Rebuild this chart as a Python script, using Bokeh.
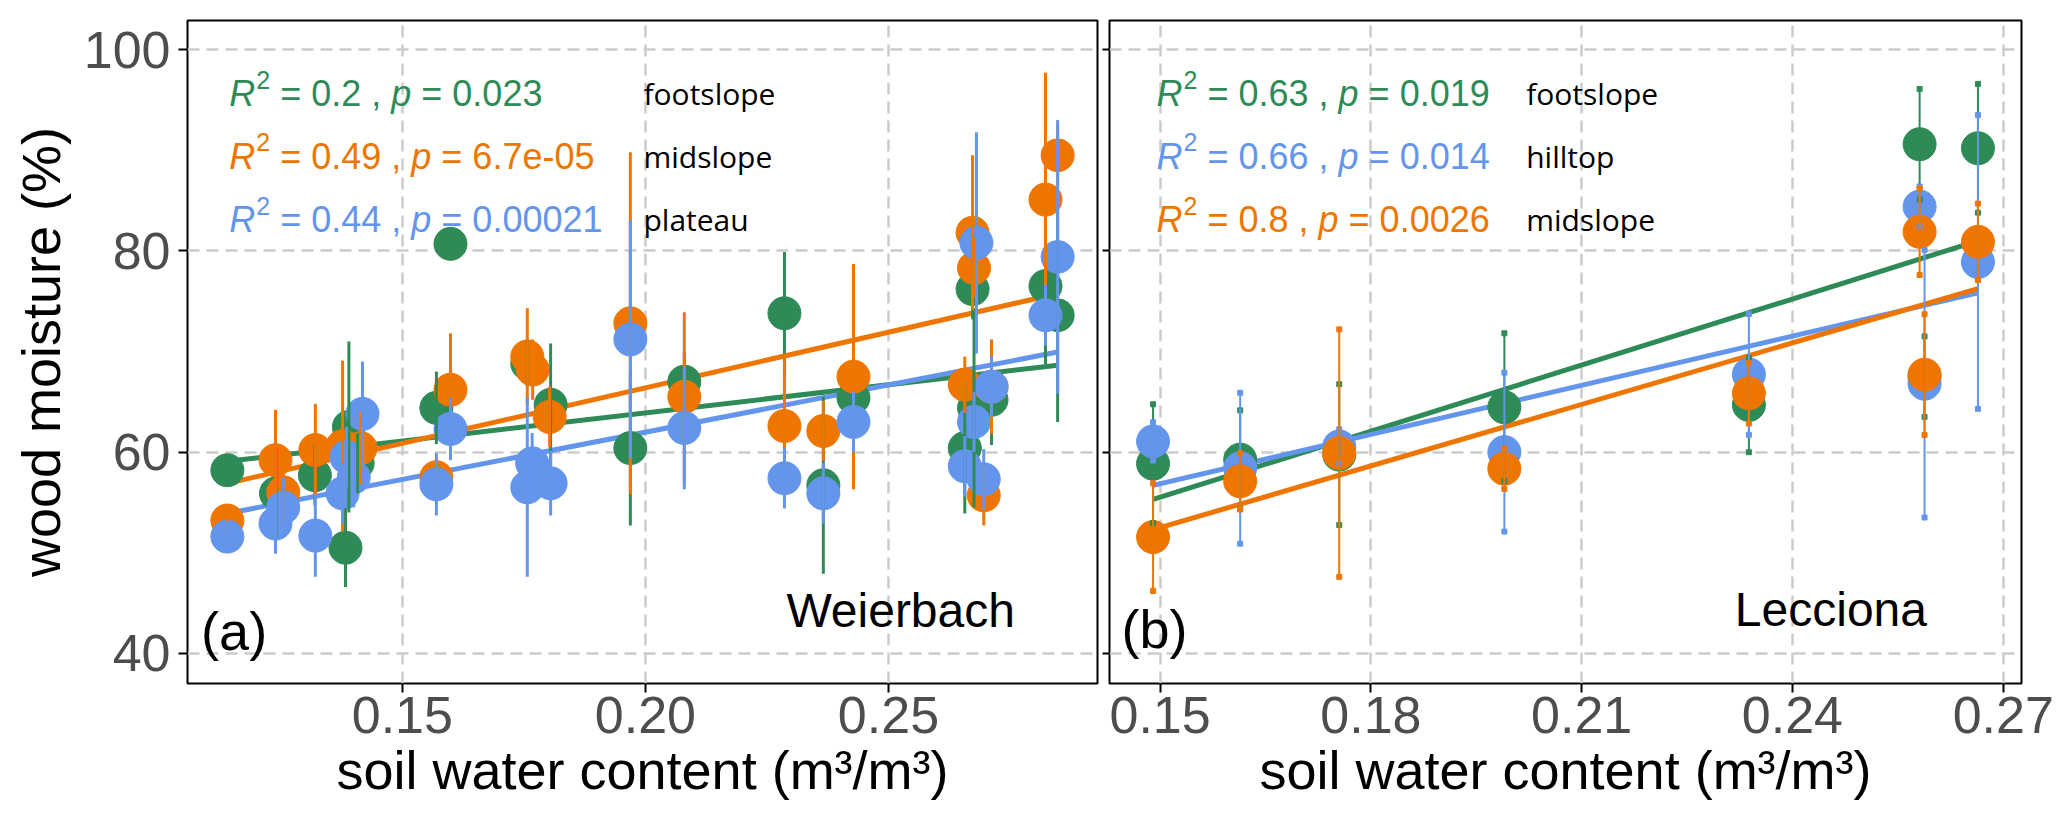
from bokeh.plotting import figure
from bokeh.models import FixedTicker, Label, Range1d
from bokeh.layouts import row
from bokeh.embed import file_html
from bokeh.resources import INLINE

GREEN = "#2E8B57"
ORANGE = "#EE7600"
BLUE = "#6495ED"

# ---- (a) Weierbach ----
wb_foot_swc = [0.114, 0.124, 0.132, 0.139, 0.1383, 0.1408, 0.157, 0.1599, 0.1757, 0.1805, 0.1969,
               0.208, 0.2286, 0.2366, 0.2428, 0.2657, 0.2673, 0.2676, 0.2712, 0.2823, 0.2848]
wb_foot_wm = [58.2, 55.9, 57.7, 62.5, 50.5, 58.9, 64.4, 80.7, 68.8, 64.7, 60.4,
              67.0, 73.8, 56.7, 65.4, 60.4, 76.2, 64.4, 65.2, 76.5, 73.6]
wb_foot_sd = [1.5, 4.4, 3.0, 8.5, 3.9, 3.0, 3.6, 1.0, 2.3, 6.1, 7.7,
              3.0, 6.1, 8.8, 3.0, 6.5, 3.0, 9.9, 4.5, 7.8, 10.6]

wb_mid_swc = [0.114, 0.1239, 0.1255, 0.1321, 0.1377, 0.1414, 0.157, 0.1599, 0.1757, 0.1768, 0.1803,
              0.1969, 0.208, 0.2286, 0.2366, 0.2428, 0.2657, 0.2673, 0.2676, 0.2696, 0.2712, 0.2823, 0.2848]
wb_mid_wm = [53.2, 59.2, 56.0, 60.2, 60.6, 60.4, 57.5, 66.2, 69.5, 68.2, 63.5,
             72.8, 65.5, 62.6, 62.1, 67.5, 66.7, 81.8, 78.3, 55.7, 66.5, 85.1, 89.5]
wb_mid_sd = [1.5, 5.0, 3.0, 4.6, 8.5, 3.6, 2.0, 5.6, 4.8, 3.0, 3.0,
             17.0, 8.4, 7.2, 3.0, 11.2, 2.8, 7.7, 3.0, 3.0, 4.7, 12.6, 3.0]

wb_plat_swc = [0.114, 0.1239, 0.1255, 0.1321, 0.1377, 0.1385, 0.140, 0.1418, 0.157, 0.1599, 0.1757,
               0.1767, 0.1805, 0.1969, 0.208, 0.2286, 0.2366, 0.2428, 0.2657, 0.2676, 0.2681, 0.2696,
               0.2712, 0.2823, 0.2848]
wb_plat_wm = [51.6, 52.9, 54.5, 51.7, 55.9, 59.5, 57.5, 63.8, 56.8, 62.3, 56.5,
              58.9, 56.9, 71.2, 62.4, 57.4, 55.9, 63.0, 58.6, 63.0, 80.8, 57.3,
              66.5, 73.6, 79.4]
wb_plat_sd = [1.5, 3.0, 3.0, 4.1, 3.0, 3.0, 3.0, 5.2, 3.1, 3.1, 8.9,
              3.0, 3.2, 11.8, 6.1, 3.0, 3.0, 3.0, 3.0, 3.0, 11.0, 3.0,
              3.0, 3.0, 13.6]

wb_groups = ["footslope", "midslope", "plateau"]
wb_fit_intercept = [52.72, 44.31, 43.2]
wb_fit_slope = [55.9, 110.4, 93.9]
wb_r2 = ["0.2", "0.49", "0.44"]
wb_p = ["0.023", "6.7e-05", "0.00021"]

# ---- (b) Lecciona ----
lc_swc = [0.149, 0.1614, 0.1755, 0.199, 0.2338, 0.2581, 0.2588, 0.2664]
lc_foot_wm = [58.85, 59.25, 59.75, 64.46, 64.69, 90.6, 67.5, 90.2]
lc_foot_sd = [5.9, 4.9, 7.0, 7.35, 4.7, 5.5, 4.0, 6.4]
lc_hill_wm = [61.06, 58.4, 60.56, 60.0, 67.72, 84.4, 66.8, 78.9]
lc_hill_sd = [1.9, 7.5, 1.7, 7.9, 6.0, 2.0, 13.3, 14.6]
lc_mid_wm = [51.55, 57.1, 59.9, 58.35, 65.84, 81.9, 67.7, 80.9]
lc_mid_sd = [5.35, 2.8, 12.3, 2.0, 3.0, 4.3, 6.0, 3.8]

lc_groups = ["footslope", "hilltop", "midslope"]
lc_fit_intercept = [22.66, 32.41, 21.90]
lc_fit_slope = [219.0, 163.0, 204.0]
lc_r2 = ["0.63", "0.66", "0.8"]
lc_p = ["0.019", "0.014", "0.0026"]

y_ticks = [40, 60, 80, 100]
wb_x_ticks = [0.15, 0.20, 0.25]
lc_x_ticks = [0.15, 0.18, 0.21, 0.24, 0.27]

# arial advance widths, per 1000 em
AW = {" ": 278, "=": 584, ".": 278, ",": 278, "R": 722, "p": 556, "e": 556, "-": 333}


def tw(s, size):
    return sum(AW.get(c, 556) for c in s) * size / 1000.0


def stat_text(p, x, y, color, r2, pv, size=36):
    sup = 25
    sp = tw(" ", size)
    pieces = [("R", size, "italic", 0, 1),
              ("2", sup, "normal", 14, sp),
              ("= %s ," % r2, size, "normal", 0, sp),
              ("p", size, "italic", 0, sp),
              ("= %s" % pv, size, "normal", 0, 0)]
    off = 0
    for text, fs, style, dy, gap in pieces:
        p.add_layout(Label(x=x, y=y, x_offset=off, y_offset=dy, text=text,
                           text_font="Liberation Sans", text_font_size="%dpx" % fs,
                           text_font_style=style, text_color=color,
                           text_baseline="middle", text_align="left"))
        off += tw(text, fs) + gap


def style(p, xticks, show_ylabels):
    p.background_fill_color = "white"
    p.border_fill_color = "white"
    p.outline_line_color = "black"
    p.outline_line_width = 2
    p.xaxis.ticker = FixedTicker(ticks=xticks)
    p.yaxis.ticker = FixedTicker(ticks=y_ticks)
    p.xaxis.major_label_overrides = {t: "%.2f" % t for t in xticks}
    for ax in p.axis:
        ax.axis_line_color = None
        ax.major_tick_line_color = "black"
        ax.major_tick_line_width = 2
        ax.major_tick_in = 0
        ax.minor_tick_line_color = None
        ax.major_label_text_font = "Liberation Sans"
        ax.major_label_text_font_size = "52px"
        ax.major_label_text_color = "#4d4d4d"
        ax.axis_label_text_font = "Liberation Sans"
        ax.axis_label_text_font_size = "54px"
        ax.axis_label_text_font_style = "normal"
        ax.axis_label_text_color = "black"
    p.xaxis.major_tick_out = 9
    p.xaxis.major_label_standoff = 4
    p.xaxis.axis_label_standoff = 4
    p.xaxis.axis_label = "soil water content (m³/m³)"
    if show_ylabels:
        p.yaxis.major_tick_out = 9
        p.yaxis.major_label_standoff = 8
        p.yaxis.axis_label_standoff = 10
        p.yaxis.axis_label = "wood moisture (%)"
    else:
        p.yaxis.major_tick_out = 7
        p.yaxis.major_label_standoff = 0
        p.yaxis.major_label_overrides = {t: "" for t in y_ticks}
        p.yaxis.major_label_text_font_size = "1px"
    for g in (p.xgrid, p.ygrid):
        g.grid_line_color = "#cccccc"
        g.grid_line_width = 2.5
        g.grid_line_dash = "12 7"


def panel(p, series, colors, intercepts, slopes, caps):
    for (swc, wm, sd), c, b, m in zip(series, colors, intercepts, slopes):
        xs = [min(swc), max(swc)]
        p.line(xs, [b + m * x for x in xs], line_color=c, line_width=5)
    for (swc, wm, sd), c in zip(series, colors):
        p.scatter(swc, wm, size=33, marker="circle", fill_color=c, line_color=c)
    for (swc, wm, sd), c in zip(series, colors):
        lo = [v - e for v, e in zip(wm, sd)]
        hi = [v + e for v, e in zip(wm, sd)]
        p.segment(x0=swc, y0=lo, x1=swc, y1=hi, line_color=c, line_width=2 if caps else 3)
        if caps:
            p.scatter(list(swc) + list(swc), lo + hi, marker="square", size=5,
                      fill_color=c, line_color=c)


pa = figure(width=1101, height=823, x_range=Range1d(0.1058, 0.293), y_range=Range1d(37.0, 102.9),
            output_backend="svg", toolbar_location=None,
            min_border_left=187, min_border_right=4, min_border_top=20, min_border_bottom=140)
style(pa, wb_x_ticks, True)
panel(pa,
      [(wb_foot_swc, wb_foot_wm, wb_foot_sd), (wb_mid_swc, wb_mid_wm, wb_mid_sd),
       (wb_plat_swc, wb_plat_wm, wb_plat_sd)],
      [GREEN, ORANGE, BLUE], wb_fit_intercept, wb_fit_slope, False)

pb = figure(width=958, height=823, x_range=Range1d(0.1428, 0.2726), y_range=Range1d(37.0, 102.9),
            output_backend="svg", toolbar_location=None,
            min_border_left=8, min_border_right=38, min_border_top=20, min_border_bottom=140)
style(pb, lc_x_ticks, False)
panel(pb,
      [(lc_swc, lc_foot_wm, lc_foot_sd), (lc_swc, lc_hill_wm, lc_hill_sd),
       (lc_swc, lc_mid_wm, lc_mid_sd)],
      [GREEN, BLUE, ORANGE], lc_fit_intercept, lc_fit_slope, True)

rows_y = [95.6, 89.4, 83.1]
for i, (g, c) in enumerate(zip(wb_groups, [GREEN, ORANGE, BLUE])):
    stat_text(pa, 0.1144, rows_y[i], c, wb_r2[i], wb_p[i])
    pa.add_layout(Label(x=0.1996, y=rows_y[i], text=g, text_font="Open Sans",
                        text_font_size="30px", text_color="black", text_baseline="middle"))
for i, (g, c) in enumerate(zip(lc_groups, [GREEN, BLUE, ORANGE])):
    stat_text(pb, 0.1495, rows_y[i], c, lc_r2[i], lc_p[i])
    pb.add_layout(Label(x=0.2021, y=rows_y[i], text=g, text_font="Open Sans",
                        text_font_size="30px", text_color="black", text_baseline="middle"))

pa.add_layout(Label(x=0.1086, y=39.2, text="(a)", text_font="Liberation Sans",
                    text_font_size="54px", text_color="black"))
pa.add_layout(Label(x=0.229, y=41.6, text="Weierbach", text_font="Liberation Sans",
                    text_font_size="48px", text_color="black"))
pb.add_layout(Label(x=0.1445, y=39.4, text="(b)", text_font="Liberation Sans",
                    text_font_size="54px", text_color="black"))
pb.add_layout(Label(x=0.2318, y=41.7, text="Lecciona", text_font="Liberation Sans",
                    text_font_size="48px", text_color="black"))

layout = row(pa, pb)
open("out.html", "w").write(file_html(layout, INLINE))
